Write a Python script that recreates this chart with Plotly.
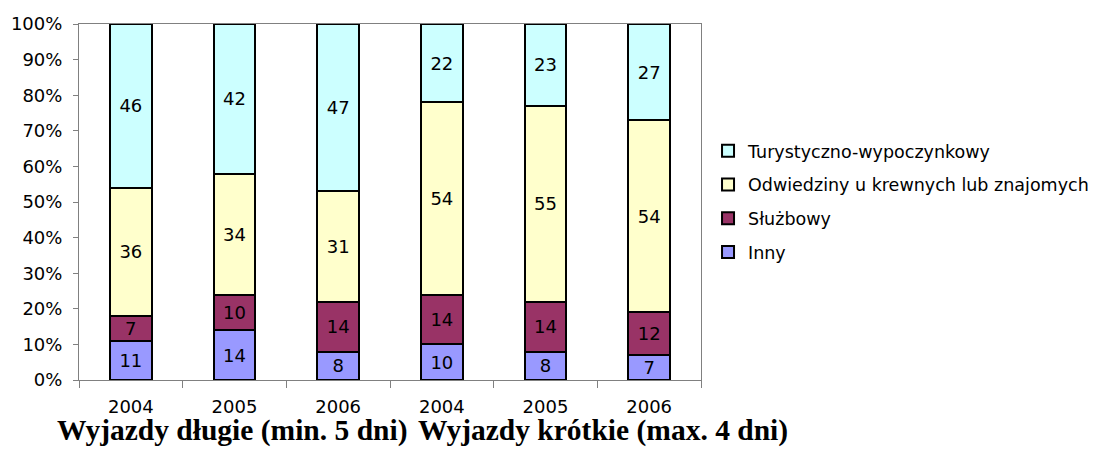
import plotly.graph_objects as go

# categories: two groups of trips, three years each
bar_ids = ["d2004", "d2005", "d2006", "k2004", "k2005", "k2006"]
years = ["2004", "2005", "2006", "2004", "2005", "2006"]
group_labels = ["Wyjazdy długie (min. 5 dni)", "Wyjazdy krótkie (max. 4 dni)"]

# series (percent shares)
inny = [11, 14, 8, 10, 8, 7]
sluzbowy = [7, 10, 14, 14, 14, 12]
odwiedziny = [36, 34, 31, 54, 55, 54]
turystyczny = [46, 42, 47, 22, 23, 27]

series = [
    ("Inny", inny, "#9999FF"),
    ("Służbowy", sluzbowy, "#993366"),
    ("Odwiedziny u krewnych lub znajomych", odwiedziny, "#FFFFCC"),
    ("Turystyczno-wypoczynkowy", turystyczny, "#CCFFFF"),
]

sans = "DejaVu Sans"

fig = go.Figure()
for i, (name, vals, color) in enumerate(series):
    fig.add_trace(go.Bar(
        x=bar_ids,
        y=vals,
        name=name,
        legendgroup=str(i),
        legendrank=len(series) - i,
        marker=dict(color=color, line=dict(color="black", width=2)),
        text=[str(v) for v in vals],
        textposition="inside",
        insidetextanchor="middle",
        textangle=0,
        textfont=dict(family=sans, size=18, color="black"),
    ))

# page body shifts the figure by 8px, margins are set for that;
# figure is a bit wider than the window so the legend has room
fig.update_layout(
    barmode="stack",
    barnorm="percent",
    bargap=0.6,
    width=1111,
    height=450,
    margin=dict(l=71, r=418, t=16, b=78),
    plot_bgcolor="white",
    paper_bgcolor="white",
    font=dict(family=sans, size=18, color="black"),
    uniformtext=dict(minsize=18, mode="show"),
    legend=dict(
        x=1.0113, xanchor="left",
        y=0.694, yanchor="top",
        traceorder="grouped",
        tracegroupgap=8,
        font=dict(family=sans, size=17.5),
        bgcolor="rgba(0,0,0,0)",
    ),
    xaxis=dict(
        tickvals=bar_ids,
        ticktext=years,
        tickson="boundaries",
        ticks="outside",
        ticklen=7,
        tickcolor="#808080",
        ticklabelstandoff=10,
        showline=True,
        linecolor="#808080",
        linewidth=1,
        mirror=True,
        showgrid=False,
        automargin=False,
        tickfont=dict(family=sans, size=18),
    ),
    yaxis=dict(
        range=[0, 100],
        tickvals=[0, 10, 20, 30, 40, 50, 60, 70, 80, 90, 100],
        ticktext=["0%", "10%", "20%", "30%", "40%", "50%", "60%", "70%", "80%", "90%", "100%"],
        ticks="outside",
        ticklen=5,
        tickcolor="#808080",
        ticklabelstandoff=7,
        showline=True,
        linecolor="#808080",
        linewidth=1,
        mirror=True,
        showgrid=False,
        zeroline=False,
        automargin=False,
        tickfont=dict(family=sans, size=18),
    ),
)

# group captions under the year labels
for gx, label in zip([0.246, 0.842], group_labels):
    fig.add_annotation(
        x=gx, y=-0.143, xref="paper", yref="paper",
        xanchor="center", yanchor="middle",
        text="<b>" + label + "</b>",
        showarrow=False,
        font=dict(family="Liberation Serif, Times New Roman", size=29.5, color="black"),
    )

fig.write_html("out.html")
